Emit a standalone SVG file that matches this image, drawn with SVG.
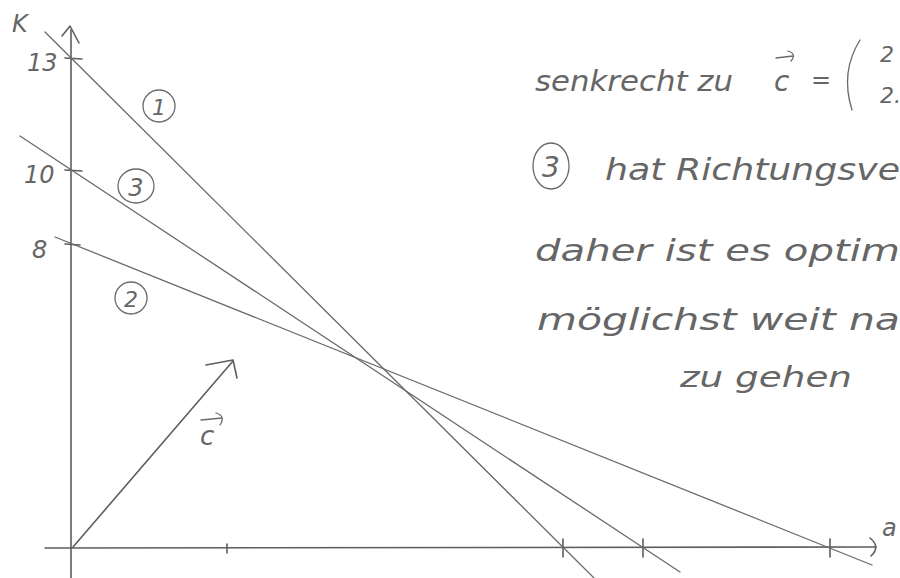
<svg xmlns="http://www.w3.org/2000/svg" width="900" height="578" viewBox="0 0 900 578">
<style>
.pen{fill:none;stroke:#5e5e5e;stroke-width:1.6;stroke-linecap:round;stroke-linejoin:round}
.thin{fill:none;stroke:#6a6a6a;stroke-width:1.3;stroke-linecap:round}
.hw{font-family:"DejaVu Sans","Liberation Sans",sans-serif;font-style:italic;fill:#666}
</style>
<rect width="900" height="578" fill="#ffffff"/>
<g id="axes">
<path class="pen" d="M71,30 L71,578"/>
<path class="pen" d="M62,36 L70,26 L79,43"/>
<path class="pen" d="M45,548 L876,547"/>
<path class="pen" d="M870,538 Q881,547 871,556"/>
<path class="pen" d="M65,58 L82,59 M65,170 L82,171 M65,244 L80,245"/>
<path class="pen" d="M563,539 L563,557 M643,539 L643,557 M830,539 L830,557 M227,544 L227,553"/>
<text class="hw" x="12" y="32" font-size="24">K</text>
<text class="hw" x="27" y="71" font-size="24">13</text>
<text class="hw" x="24" y="183" font-size="24">10</text>
<text class="hw" x="32" y="258" font-size="24">8</text>
<text class="hw" x="882" y="536" font-size="24">a</text>
</g>
<g id="lines">
<path id="line1" class="thin" d="M45,32 L594,578"/>
<path id="line3" class="thin" d="M20,136 L680,572"/>
<path id="line2" class="thin" d="M55,237 L872,565"/>
</g>
<g id="labels">
<g id="label1"><ellipse class="thin" cx="159" cy="106" rx="16" ry="16"/><text class="hw" x="159" y="115" font-size="22" text-anchor="middle">1</text></g>
<g id="label3"><ellipse class="thin" cx="136" cy="186" rx="18" ry="17"/><text class="hw" x="136" y="196" font-size="24" text-anchor="middle">3</text></g>
<g id="label2"><ellipse class="thin" cx="131" cy="298" rx="16" ry="16"/><text class="hw" x="131" y="307" font-size="22" text-anchor="middle">2</text></g>
</g>
<g id="vector-c">
<path class="pen" d="M73,547 L233,361"/>
<path class="pen" d="M206,365 L233,360 L237,378"/>
<text class="hw" x="200" y="445" font-size="26">c</text>
<path class="thin" d="M201,420 L222,418 M216,413 Q226,416 220,425"/>
</g>
<g id="notes">
<text class="hw" x="535" y="91" font-size="28" textLength="198" lengthAdjust="spacingAndGlyphs">senkrecht zu</text>
<text class="hw" x="774" y="91" font-size="28">c</text>
<path class="thin" d="M776,58 L793,56 M788,51 Q797,54 791,61"/>
<text class="hw" x="811" y="88" font-size="24">=</text>
<path class="thin" d="M860,40 Q840,72 852,110"/>
<text class="hw" x="880" y="62" font-size="22">2</text>
<text class="hw" x="880" y="103" font-size="22">2.</text>
<ellipse class="thin" cx="551" cy="166" rx="18" ry="23"/>
<text class="hw" x="551" y="177" font-size="28" text-anchor="middle">3</text>
<text class="hw" x="605" y="180" font-size="30" textLength="295" lengthAdjust="spacingAndGlyphs">hat Richtungsve</text>
<text class="hw" x="535" y="261" font-size="30" textLength="365" lengthAdjust="spacingAndGlyphs">daher ist es optim</text>
<text class="hw" x="537" y="330" font-size="30" textLength="363" lengthAdjust="spacingAndGlyphs">möglichst weit na</text>
<text class="hw" x="680" y="387" font-size="28" textLength="172" lengthAdjust="spacingAndGlyphs">zu gehen</text>
</g>
</svg>
